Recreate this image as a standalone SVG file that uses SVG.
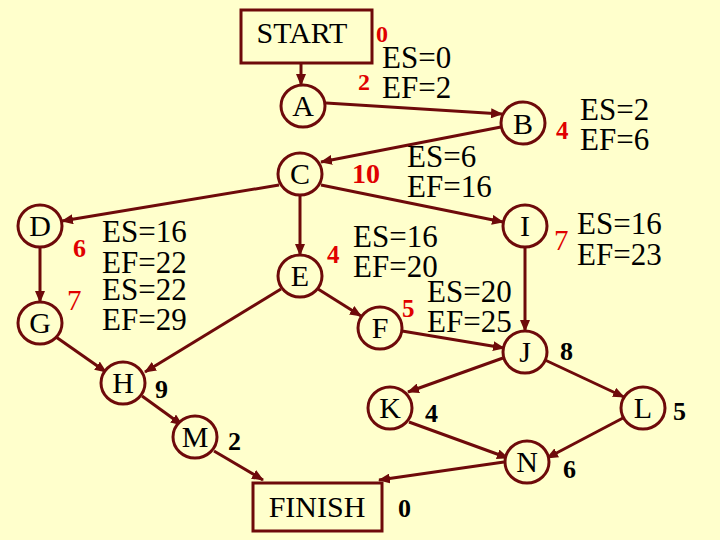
<svg xmlns="http://www.w3.org/2000/svg" width="720" height="540" viewBox="0 0 720 540" font-family="'Liberation Serif', 'Times New Roman', Tinos, 'DejaVu Serif', serif">
<defs>
<marker id="ah" markerUnits="userSpaceOnUse" markerWidth="12" markerHeight="10" refX="11" refY="5" orient="auto">
<path d="M0,0 L12,5 L0,10 z" fill="#6E0A0A"/>
</marker>
<style>
.bg{fill:#FFFFCC}
.nd{fill:#FFFFCC;stroke:#6E0A0A;stroke-width:3}
text{font-family:'Liberation Serif','Times New Roman',Tinos,'DejaVu Serif',serif}
.lb{font-size:31px;fill:#000}
.nl{font-size:30px;fill:#000;text-anchor:middle}
.rd{font-weight:bold;fill:#E00000}
.rn{fill:#E00000}
.bk{font-weight:bold;font-size:26px;fill:#000}
.ed{stroke:#6E0A0A;stroke-width:3;fill:none;marker-end:url(#ah)}
</style>
</defs>
<rect class="bg" x="0" y="0" width="720" height="540"/>
<g id="connectors">
<line class="ed" x1="301" y1="64" x2="301" y2="85"/>
<line class="ed" x1="326" y1="103" x2="502" y2="114"/>
<line class="ed" x1="501" y1="127" x2="321" y2="162"/>
<line class="ed" x1="321" y1="185" x2="503" y2="222"/>
<line class="ed" x1="279" y1="185" x2="62" y2="221"/>
<line class="ed" x1="300" y1="196" x2="300" y2="255"/>
<line class="ed" x1="40" y1="247" x2="40" y2="302"/>
<line class="ed" x1="318" y1="289" x2="361" y2="316"/>
<line class="ed" x1="281" y1="289" x2="145" y2="372"/>
<line class="ed" x1="56" y1="337" x2="106" y2="372"/>
<line class="ed" x1="142" y1="396" x2="182" y2="425"/>
<line class="ed" x1="214" y1="451" x2="263" y2="480"/>
<line class="ed" x1="525" y1="247" x2="525" y2="331"/>
<line class="ed" x1="402" y1="331" x2="504" y2="348"/>
<line class="ed" x1="503" y1="358" x2="408" y2="392"/>
<line class="ed" x1="545" y1="360" x2="624" y2="397"/>
<line class="ed" x1="409" y1="422" x2="508" y2="458"/>
<line class="ed" x1="623" y1="418" x2="547" y2="458"/>
<line class="ed" x1="504" y1="462" x2="379" y2="480"/>
</g>
<g id="START"><rect class="nd" x="241" y="10" width="131" height="53"/><text class="nl" x="302" y="43">START</text></g>
<g id="A"><ellipse class="nd" cx="303" cy="106" rx="22" ry="21"/><text class="nl" x="303" y="116">A</text></g>
<g id="B"><ellipse class="nd" cx="523" cy="123" rx="22" ry="21"/><text class="nl" x="523" y="134">B</text></g>
<g id="C"><ellipse class="nd" cx="300" cy="174" rx="22" ry="21"/><text class="nl" x="300" y="184">C</text></g>
<g id="D"><ellipse class="nd" cx="40" cy="226" rx="22" ry="21"/><text class="nl" x="40" y="236">D</text></g>
<g id="E"><ellipse class="nd" cx="300" cy="276" rx="22" ry="21"/><text class="nl" x="300" y="286">E</text></g>
<g id="F"><ellipse class="nd" cx="380" cy="328" rx="22" ry="21"/><text class="nl" x="380" y="338">F</text></g>
<g id="G"><ellipse class="nd" cx="40" cy="323" rx="22" ry="21"/><text class="nl" x="40" y="333">G</text></g>
<g id="H"><ellipse class="nd" cx="123" cy="383" rx="22" ry="21"/><text class="nl" x="123" y="393">H</text></g>
<g id="I"><ellipse class="nd" cx="525" cy="226" rx="22" ry="21"/><text class="nl" x="525" y="236">I</text></g>
<g id="J"><ellipse class="nd" cx="525" cy="352" rx="22" ry="21"/><text class="nl" x="525" y="362">J</text></g>
<g id="K"><ellipse class="nd" cx="390" cy="408" rx="22" ry="21"/><text class="nl" x="390" y="418">K</text></g>
<g id="L"><ellipse class="nd" cx="643" cy="408" rx="22" ry="21"/><text class="nl" x="643" y="418">L</text></g>
<g id="M"><ellipse class="nd" cx="195" cy="437" rx="22" ry="21"/><text class="nl" x="195" y="447">M</text></g>
<g id="N"><ellipse class="nd" cx="527" cy="462" rx="22" ry="21"/><text class="nl" x="527" y="472">N</text></g>
<g id="FINISH"><rect class="nd" x="253" y="483" width="129" height="48"/><text class="nl" x="317" y="517">FINISH</text></g>
<g id="labels">
<text class="rd" x="376" y="42" font-size="24">0</text>
<text class="lb" x="382" y="68">ES=0</text>
<text class="rd" x="358" y="90" font-size="24">2</text>
<text class="lb" x="382" y="98">EF=2</text>
<text class="rd" x="556" y="139" font-size="25">4</text>
<text class="lb" x="580" y="120">ES=2</text>
<text class="lb" x="580" y="150">EF=6</text>
<text class="rd" x="352" y="183" font-size="28">10</text>
<text class="lb" x="407" y="167">ES=6</text>
<text class="lb" x="407" y="197">EF=16</text>
<text class="rd" x="73" y="257" font-size="26">6</text>
<text class="lb" x="102" y="242">ES=16</text>
<text class="lb" x="102" y="273">EF=22</text>
<text class="lb" x="102" y="300">ES=22</text>
<text class="lb" x="102" y="330">EF=29</text>
<text class="rn" x="67" y="310" font-size="29">7</text>
<text class="rd" x="327" y="263" font-size="25">4</text>
<text class="lb" x="353" y="247">ES=16</text>
<text class="lb" x="353" y="277">EF=20</text>
<text class="rn" x="554" y="250" font-size="29">7</text>
<text class="lb" x="577" y="234">ES=16</text>
<text class="lb" x="577" y="265">EF=23</text>
<text class="rd" x="402" y="317" font-size="25">5</text>
<text class="lb" x="427" y="302">ES=20</text>
<text class="lb" x="427" y="332">EF=25</text>
<text class="bk" x="560" y="360">8</text>
<text class="bk" x="155" y="398">9</text>
<text class="bk" x="425" y="422">4</text>
<text class="bk" x="673" y="420">5</text>
<text class="bk" x="228" y="450">2</text>
<text class="bk" x="563" y="478">6</text>
<text class="bk" x="398" y="517">0</text>
</g>
</svg>
